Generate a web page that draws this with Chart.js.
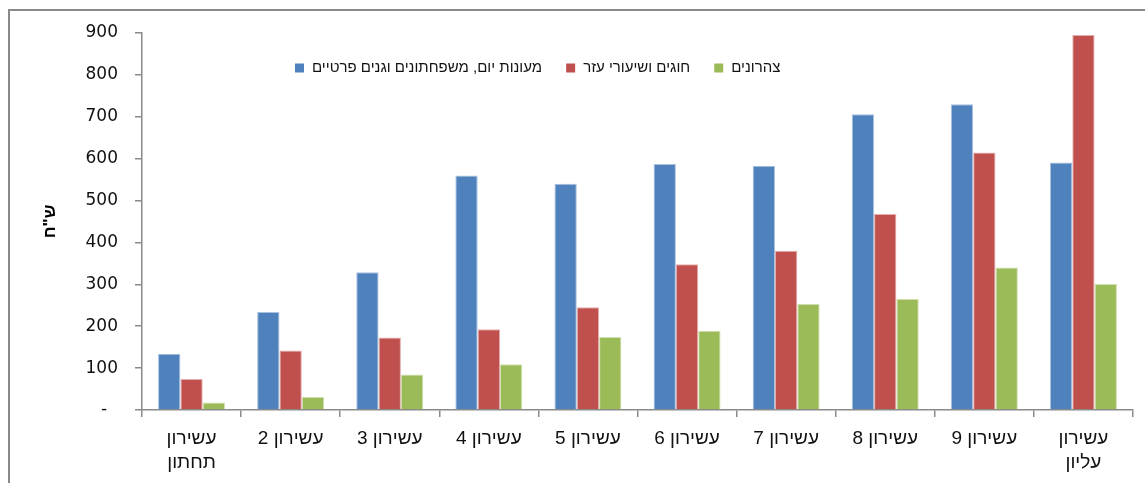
<!DOCTYPE html>
<html lang="he">
<head>
<meta charset="utf-8">
<script src="https://cdn.jsdelivr.net/npm/chart.js@4.4.1/dist/chart.umd.min.js"></script>
<style>
  html, body { margin: 0; padding: 0; background: #fff; }
  #wrap { position: relative; width: 1145px; height: 483px; overflow: hidden; }
  #frame {
    position: absolute; left: 8px; top: 9px; width: 1200px; height: 600px;
    border-top: 2px solid #8a8a8a; border-left: 2px solid #8a8a8a;
    pointer-events: none;
  }
</style>
</head>
<body>
<div id="wrap">
  <canvas id="myBarChart" dir="rtl" width="1145" height="483"></canvas>
  <div id="frame"></div>
</div>
<script>
// נתונים
const deciles = [
  ['עשירון', 'תחתון'], 'עשירון 2', 'עשירון 3', 'עשירון 4', 'עשירון 5',
  'עשירון 6', 'עשירון 7', 'עשירון 8', 'עשירון 9', ['עשירון', 'עליון']
];
const daycare = [134, 234, 329, 560, 540, 587, 583, 706, 730, 591];
const classes = [74, 142, 173, 193, 245, 348, 380, 468, 615, 895];
const afterSchool = [18, 31, 85, 109, 174, 189, 253, 265, 340, 301];
const yTicks = [0, 100, 200, 300, 400, 500, 600, 700, 800, 900];

const axisGray = '#8a8a8a';
const hebFont = "Arial, 'Liberation Sans', sans-serif";
const numFont = "Tahoma, 'DejaVu Sans', sans-serif";

// מקרא בתוך אזור הגרף, שורה אחת
const inlineLegend = {
  id: 'inlineLegend',
  afterDraw(chart) {
    const c = chart.ctx;
    const area = chart.chartArea;
    const box = 9;
    c.save();
    c.font = '15px ' + hebFont;
    c.textBaseline = 'middle';
    c.textAlign = 'left';
    let x = area.left + 153;
    const y = area.top + 35;
    chart.data.datasets.forEach(ds => {
      c.fillStyle = ds.backgroundColor;
      c.fillRect(x, y - box / 2, box, box);
      x += box + 8;
      c.fillStyle = '#111';
      c.fillText(ds.label, x, y);
      x += c.measureText(ds.label).width + 24;
    });
    c.restore();
  }
};

const ctx = document.getElementById('myBarChart').getContext('2d');

let myBarChart = new Chart(ctx, {
  type: 'bar',
  data: {
    labels: deciles,
    datasets: [
      { label: 'מעונות יום, משפחתונים וגנים פרטיים', data: daycare,
        backgroundColor: '#4f81bd', borderColor: '#a9c0de', borderWidth: 1 },
      { label: 'חוגים ושיעורי עזר', data: classes,
        backgroundColor: '#c0504d', borderColor: '#e3aeac', borderWidth: 1 },
      { label: 'צהרונים', data: afterSchool,
        backgroundColor: '#9bbb59', borderColor: '#cfe0ae', borderWidth: 1 }
    ]
  },
  plugins: [inlineLegend],
  options: {
    responsive: false,
    animation: false,
    categoryPercentage: 0.676,
    barPercentage: 1,
    layout: { padding: { left: 36, top: 33, right: 12, bottom: 0 } },
    plugins: {
      tooltip: { enabled: false },
      legend: { display: false }
    },
    scales: {
      x: {
        offset: true,
        border: { color: axisGray, width: 1.5 },
        grid: { offset: true, drawOnChartArea: false, tickLength: 7, color: axisGray, lineWidth: 1.5 },
        ticks: {
          maxRotation: 0,
          padding: 9,
          color: '#111',
          font: { family: hebFont, size: 19, lineHeight: 1.3 }
        },
        afterFit: (scale) => { scale.height = 73; }
      },
      y: {
        min: 0,
        max: 900,
        afterBuildTicks: (scale) => { scale.ticks = yTicks.map(v => ({ value: v })); },
        border: { color: axisGray, width: 1.5 },
        grid: { drawOnChartArea: false, tickLength: 7, color: axisGray, lineWidth: 1.5 },
        ticks: {
          padding: 17,
          color: '#111',
          font: { family: numFont, size: 17 },
          callback: (v) => v === 0 ? '  -' : v
        },
        title: {
          display: true,
          text: 'ש"ח',
          color: '#000',
          font: { family: hebFont, size: 17, weight: 'bold' }
        },
        afterFit: (scale) => { scale.width = 142 - 36; }
      }
    }
  }
});
</script>
</body>
</html>
